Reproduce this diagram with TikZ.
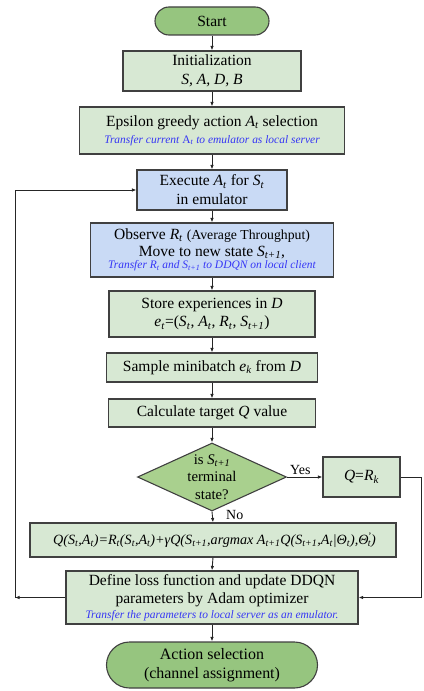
\documentclass[tikz,border=0pt]{standalone}
\usepackage{fontspec}
\setmainfont{Liberation Serif}
\usetikzlibrary{shapes.geometric,arrows.meta}
\definecolor{boxgreen}{HTML}{D7E8D3}
\definecolor{boxblue}{HTML}{C9DAF5}
\definecolor{termgreen}{HTML}{96C57F}
\definecolor{diagreen}{HTML}{A9D08E}
\definecolor{bordercol}{HTML}{404040}
\definecolor{txtblue}{HTML}{3535F5}
\newcommand\vsub[2]{\textit{#1}\textsubscript{\textit{#2}}}
\newcommand\mfont{\fontsize{15.6}{19}\selectfont}
\newcommand\bfnt{\color{txtblue}\fontsize{11.5}{13}\selectfont\itshape}
\begin{document}
\begin{tikzpicture}[x=1bp,y=-1bp,
  box/.style={draw=bordercol, line width=1.1bp, fill=boxgreen, align=center, inner sep=0pt, font=\mfont},
  bluebox/.style={box, fill=boxblue},
  term/.style={box, fill=termgreen, rounded corners=14bp},
  decision/.style={diamond, draw=bordercol, line width=1.1bp, fill=diagreen, inner sep=0pt, minimum width=149bp, minimum height=68bp},
  arr/.style={draw=black!85, line width=0.9bp, -{Latex[length=4.5bp,width=3.5bp]}},
  lab/.style={font=\fontsize{14}{16}\selectfont, inner sep=0pt}]
\useasboundingbox (0,0) rectangle (423,691);

\node[term, minimum width=114bp, minimum height=28bp] (start) at (212,21) {Start};
\node[box, minimum width=178bp, minimum height=40bp] (init) at (212,71) {Initialization\\\textit{S, A, D, B}};
\node[box, minimum width=265bp, minimum height=47bp] (eps) at (212,130.5) {Epsilon greedy action \vsub{A}{t} selection\\[-2bp]{\bfnt Transfer current \textup{A}\textsubscript{t} to emulator as local server}};
\node[bluebox, minimum width=150bp, minimum height=40bp] (exec) at (212,190) {Execute \vsub{A}{t} for \vsub{S}{t}\\in emulator};
\node[bluebox, minimum width=243bp, minimum height=54bp] (obs) at (212,250) {Observe \vsub{R}{t} {\fontsize{13.8}{16}\selectfont (Average Throughput)}\\[-2.5bp]Move to new state \vsub{S}{t+1},\\[-6.5bp]{\bfnt Transfer \vsub{R}{t} and \vsub{S}{t+1} to DDQN on local client}};
\node[box, minimum width=206bp, minimum height=46bp] (store) at (212,314) {Store experiences in \textit{D}\\\vsub{e}{t}=(\vsub{S}{t}, \vsub{A}{t}, \vsub{R}{t}, \vsub{S}{t+1})};
\node[box, minimum width=211bp, minimum height=29bp] (sample) at (212,367.5) {Sample minibatch \vsub{e}{k} from \textit{D}};
\node[box, minimum width=207bp, minimum height=28bp] (calc) at (212,413) {Calculate target \textit{Q} value};
\node[decision, label={[align=center, font=\fontsize{14.8}{17.5}\selectfont, inner sep=0pt]center:{is \vsub{S}{t+1}\\terminal\\state?}}] (dia) at (212,477) {};
\node[box, minimum width=77bp, minimum height=40bp] (qr) at (361.5,477) {\textit{Q}=\vsub{R}{k}};
\node[box, minimum width=366bp, minimum height=34bp, font=\fontsize{14.2}{16}\selectfont\itshape] (eq) at (213,540) {Q(S\textsubscript{t},A\textsubscript{t})=R\textsubscript{t}(S\textsubscript{t},A\textsubscript{t})+γQ(S\textsubscript{t+1},argmax A\textsubscript{t+1}Q(S\textsubscript{t+1},A\textsubscript{t}|Θ\textsubscript{t}),Θ\textsuperscript{\kern-1bp'}\kern-3.5bp\textsubscript{t})\hspace*{-3bp}};
\node[box, minimum width=292bp, minimum height=53bp] (define) at (212,597.5) {Define loss function and update DDQN\\[-1bp]parameters by Adam optimizer\\[-4bp]{\bfnt Transfer the parameters to local server as an emulator.}};
\node[term, minimum width=211bp, minimum height=46bp, rounded corners=23bp, font=\fontsize{16}{19}\selectfont] (action) at (212,665) {Action selection\\(channel assignment)};

\node[lab, anchor=west] (yes) at (290,470) {Yes};
\node[lab, anchor=west] (no) at (226,515) {No};

\coordinate (rc1) at (421,477);
\coordinate (rc2) at (421,597.5);
\coordinate (lc1) at (15,597.5);
\coordinate (lc2) at (15,190);

\draw[arr] (start.south) -- (init.north);
\draw[arr] (init.south) -- (eps.north);
\draw[arr] (eps.south) -- (exec.north);
\draw[arr] (exec.south) -- (obs.north);
\draw[arr] (obs.south) -- (store.north);
\draw[arr] (store.south) -- (sample.north);
\draw[arr] (sample.south) -- (calc.north);
\draw[arr] (calc.south) -- (dia.north);
\draw[arr] (dia.east) -- (qr.west);
\draw[arr] (dia.south) -- (eq.north);
\draw[arr] (eq.south) -- (define.north);
\draw[arr] (define.south) -- (action.north);
\draw[arr] (qr.east) -- (rc1) -- (rc2) -- (define.east);
\draw[arr] (define.west) -- (lc1);
\draw[arr] (lc1) -- (lc2) -- (exec.west);
\end{tikzpicture}
\end{document}
